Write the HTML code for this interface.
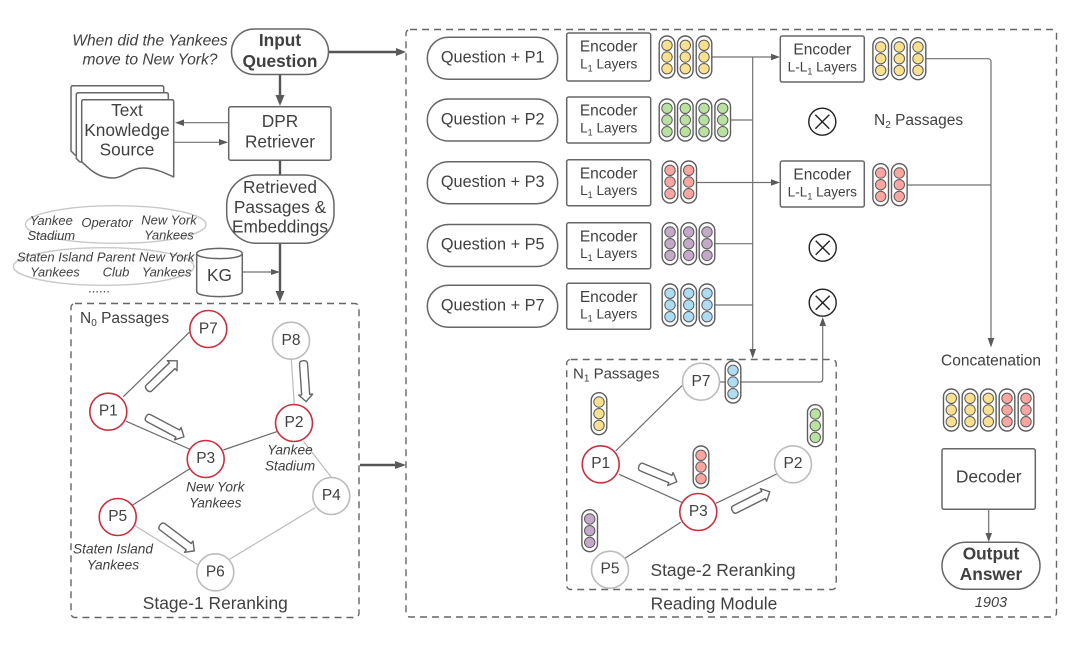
<!DOCTYPE html>
<html><head><meta charset="utf-8"><style>
html,body{margin:0;padding:0;background:#fff}
svg{display:block;filter:blur(.35px)}
text{font-family:"Liberation Sans",sans-serif;fill:#404040;text-anchor:middle}
.i{font-style:italic}
.b{font-weight:bold}
.box{fill:#fff;stroke:#666;stroke-width:1.5}
.dash{fill:none;stroke:#666;stroke-width:1.4;stroke-dasharray:7 5}
.ln{fill:none;stroke:#707070;stroke-width:1.2}
.th{fill:none;stroke:#555;stroke-width:2.4}
.dk{fill:none;stroke:#6a6a6a;stroke-width:1.2}
.lt{fill:none;stroke:#bcbcbc;stroke-width:1.2}
.ah{fill:#5a5a5a;stroke:none}
.ha{fill:#fff;stroke:#666;stroke-width:1.4;stroke-linejoin:round}
.r{fill:#fff;stroke:#c9303f;stroke-width:1.6}
.g{fill:#fff;stroke:#bcbcbc;stroke-width:1.6}
.e{font-size:15.5px}
.l{font-size:13.6px}
.q{font-size:16.3px}
.n{font-size:15.5px}
.s{font-size:13.7px}
.k{font-size:13px}
.t{font-size:17.3px}
.xl{stroke:#222;stroke-width:1.4;fill:none}
</style></head><body>
<svg width="1080" height="645" viewBox="0 0 1080 645" xmlns="http://www.w3.org/2000/svg">
<defs>
<g id="cap"><rect x="-7.8" y="-21" width="15.6" height="42" rx="7.8" fill="#fff" stroke="#5c5c5c" stroke-width="1.4"/></g>
<g id="cy"><use href="#cap"/><g fill="#fbe08e" stroke="#5c5c5c" stroke-width="1"><circle cy="-11.7" r="5.2"/><circle r="5.2"/><circle cy="11.7" r="5.2"/></g></g>
<g id="cg"><use href="#cap"/><g fill="#b9e29e" stroke="#5c5c5c" stroke-width="1"><circle cy="-11.7" r="5.2"/><circle r="5.2"/><circle cy="11.7" r="5.2"/></g></g>
<g id="cr"><use href="#cap"/><g fill="#fda6a1" stroke="#5c5c5c" stroke-width="1"><circle cy="-11.7" r="5.2"/><circle r="5.2"/><circle cy="11.7" r="5.2"/></g></g>
<g id="cp"><use href="#cap"/><g fill="#c4aac8" stroke="#5c5c5c" stroke-width="1"><circle cy="-11.7" r="5.2"/><circle r="5.2"/><circle cy="11.7" r="5.2"/></g></g>
<g id="cb"><use href="#cap"/><g fill="#aedcf5" stroke="#5c5c5c" stroke-width="1"><circle cy="-11.7" r="5.2"/><circle r="5.2"/><circle cy="11.7" r="5.2"/></g></g>
<g id="x"><circle r="13.5" fill="#fff" stroke="#222" stroke-width="1.4"/><path class="xl" d="M-7-7L7 7M7-7L-7 7"/></g>
</defs>

<!-- dashed containers -->
<rect class="dash" x="406" y="29.500" width="650.500" height="587.500" rx="4"/>
<rect class="dash" x="71" y="303.500" width="288" height="314" rx="4"/>

<!-- top left -->
<text class="i" x="150" y="45.500" font-size="15.600">When did the Yankees</text>
<text class="i" x="150" y="64.500" font-size="15.600">move to New York?</text>
<path class="th" d="M328 52H398"/><path class="ah" d="M406 52L396 48V56Z"/>
<path class="th" d="M280 74V97"/><path class="ah" d="M280 106L275.500 95H284.500Z"/>
<rect class="box" x="231.500" y="29" width="97" height="45.500" rx="22.700"/>
<text class="b t" x="280" y="46">Input</text>
<text class="b t" x="280" y="67">Question</text>

<path class="box" d="M73 85.700H161.700Q163.700 85.700 163.700 87.700V155H75L71 151V87.700Q71 85.700 73 85.700Z"/>
<path class="box" d="M78.300 92.700H166.300Q168.300 92.700 168.300 94.700V162H80L76.300 158.500V94.700Q76.300 92.700 78.300 92.700Z"/>
<path class="box" d="M83.700 99.700H171.700Q173.700 99.700 173.700 101.700V177C165 173 155 168 143 168C130 168 124 178 113 178C100 178 92 172 81.700 161.700V101.700Q81.700 99.700 83.700 99.700Z" stroke-linejoin="round"/>
<text class="t" x="127" y="116">Text</text>
<text class="t" x="127" y="136">Knowledge</text>
<text class="t" x="127" y="155.500">Source</text>

<path class="ln" d="M228 122.700H182"/><path class="ah" d="M175 122.700L184 119.500V126Z"/>
<path class="ln" d="M174 142.300H221"/><path class="ah" d="M228 142.300L219 139V145.500Z"/>
<rect class="box" x="228.700" y="106.700" width="102.300" height="53.500" rx="2"/>
<text class="t" x="280" y="127">DPR</text>
<text class="t" x="280" y="147.500">Retriever</text>
<path class="th" d="M280 160V175M280 243V292"/><path class="ah" d="M280 302L275.500 291H284.500Z"/>
<rect class="box" x="226.700" y="175" width="107.300" height="68.300" rx="30"/>
<text class="t" x="280" y="193">Retrieved</text>
<text class="t" x="280" y="213">Passages &amp;</text>
<text class="t" x="280" y="232.500">Embeddings</text>

<ellipse cx="115.700" cy="224.500" rx="90.300" ry="18.800" fill="#fff" stroke="#c8c8c8" stroke-width="1.400"/>
<ellipse cx="103.700" cy="266.500" rx="90.300" ry="18.800" fill="#fff" stroke="#c8c8c8" stroke-width="1.400"/>
<text class="i k" x="51.300" y="225">Yankee</text><text class="i k" x="51.300" y="240">Stadium</text>
<text class="i k" x="107" y="227">Operator</text>
<text class="i k" x="169" y="224.500">New York</text><text class="i k" x="169" y="239.500">Yankees</text>
<text class="i k" x="55" y="261.700">Staten Island</text><text class="i k" x="55" y="276.700">Yankees</text>
<text class="i k" x="116" y="261.700">Parent</text><text class="i k" x="116" y="276.700">Club</text>
<text class="i k" x="166.700" y="261.700">New York</text><text class="i k" x="166.700" y="276.700">Yankees</text>
<text class="k" x="99" y="292.500">......</text>
<path class="ln" d="M243 272H273"/><path class="ah" d="M280 272L271 269V275Z"/>
<path class="box" d="M196.700 253.500C196.700 246.700 242.300 246.700 242.300 253.500V291.500C242.300 298.300 196.700 298.300 196.700 291.500Z"/>
<path class="ln" d="M196.700 253.500C196.700 260.300 242.300 260.300 242.300 253.500" style="stroke:#666;stroke-width:1.500"/>
<text class="t" x="219.500" y="281">KG</text>

<!-- stage 1 -->
<path class="dk" d="M123.300 396.700L189.300 332.300M125.700 421L189.300 449M223.300 450L276.700 431.700M189.300 469L132.700 505"/>
<path class="lt" d="M291.300 359L294.300 405M303.300 441L331.700 477.700M315 507.700L228.300 560M135 525.700L198.300 565"/>
<circle class="r" cx="208.300" cy="329" r="18.500"/><text class="n" x="208.300" y="333.500">P7</text>
<circle class="g" cx="291" cy="340.700" r="18.500"/><text class="n" x="291" y="345">P8</text>
<circle class="r" cx="108.300" cy="411.700" r="18.500"/><text class="n" x="108.300" y="415.500">P1</text>
<circle class="r" cx="294" cy="423" r="18.500"/><text class="n" x="294" y="427">P2</text>
<circle class="r" cx="205.700" cy="459" r="18.500"/><text class="n" x="205.700" y="463">P3</text>
<circle class="g" cx="331.300" cy="496" r="18.500"/><text class="n" x="331.300" y="500">P4</text>
<circle class="r" cx="117.700" cy="517" r="18.500"/><text class="n" x="117.700" y="521">P5</text>
<circle class="g" cx="215.300" cy="572.300" r="18.500"/><text class="n" x="215.300" y="576.500">P6</text>
<text x="80" y="323" font-size="15.500" style="text-anchor:start">N<tspan font-size="10" dy="3">0</tspan><tspan dy="-3"> Passages</tspan></text>
<path class="ha" transform="translate(147 390) rotate(-44)" d="M3-4H35V-7L42 0 35 7V4H3Q0 4 0 0T3-4Z"/>
<path class="ha" transform="translate(146 416.700) rotate(28)" d="M3-4H36V-7L43 0 36 7V4H3Q0 4 0 0T3-4Z"/>
<path class="ha" transform="translate(303.300 360.700) rotate(86)" d="M3-4H34V-7L41 0 34 7V4H3Q0 4 0 0T3-4Z"/>
<path class="ha" transform="translate(160 525) rotate(37)" d="M3-4H36V-7L43 0 36 7V4H3Q0 4 0 0T3-4Z"/>
<text class="i s" x="290" y="454.500">Yankee</text><text class="i s" x="290" y="470.500">Stadium</text>
<text class="i s" x="215.300" y="491.700">New York</text><text class="i s" x="215.300" y="507.700">Yankees</text>
<text class="i s" x="113" y="553.300">Staten Island</text><text class="i s" x="113" y="569.700">Yankees</text>
<text x="215.300" y="609" font-size="17.400">Stage-1 Reranking</text>
<path class="th" d="M360 465H397"/><path class="ah" d="M406 465L395 461V469Z"/>

<!-- reading module rows -->
<rect class="box" x="427.300" y="37.300" width="130.400" height="42" rx="21"/>
<rect class="box" x="427.300" y="99" width="130.400" height="42" rx="21"/>
<rect class="box" x="427.300" y="161.700" width="130.400" height="42" rx="21"/>
<rect class="box" x="427.300" y="224.500" width="130.400" height="42" rx="21"/>
<rect class="box" x="427.300" y="285.300" width="130.400" height="42" rx="21"/>
<text class="q" x="492.700" y="62.700">Question + P1</text>
<text class="q" x="492.700" y="124.300">Question + P2</text>
<text class="q" x="492.700" y="187">Question + P3</text>
<text class="q" x="492.700" y="249.700">Question + P5</text>
<text class="q" x="492.700" y="310.500">Question + P7</text>

<rect class="box" x="566.700" y="33" width="84" height="48" rx="2"/>
<rect class="box" x="566.700" y="97" width="84" height="46" rx="2"/>
<rect class="box" x="566.700" y="159.700" width="84" height="46" rx="2"/>
<rect class="box" x="566.700" y="222.700" width="84" height="46" rx="2"/>
<rect class="box" x="566.700" y="283.300" width="84" height="46" rx="2"/>
<text class="e" x="608.700" y="51.700">Encoder</text><text class="l" x="608.700" y="68.300">L<tspan font-size="9" dy="3">1</tspan><tspan dy="-3"> Layers</tspan></text>
<text class="e" x="608.700" y="115.700">Encoder</text><text class="l" x="608.700" y="132.300">L<tspan font-size="9" dy="3">1</tspan><tspan dy="-3"> Layers</tspan></text>
<text class="e" x="608.700" y="178.300">Encoder</text><text class="l" x="608.700" y="195">L<tspan font-size="9" dy="3">1</tspan><tspan dy="-3"> Layers</tspan></text>
<text class="e" x="608.700" y="241.300">Encoder</text><text class="l" x="608.700" y="258">L<tspan font-size="9" dy="3">1</tspan><tspan dy="-3"> Layers</tspan></text>
<text class="e" x="608.700" y="302">Encoder</text><text class="l" x="608.700" y="318.700">L<tspan font-size="9" dy="3">1</tspan><tspan dy="-3"> Layers</tspan></text>

<!-- connectors -->
<path class="ln" d="M711 57H773M752.700 57V350M731 120H752.700M696 182.500H773M715 243.700H752.700M715 305H752.700"/>
<path class="ah" d="M780 57L771 53.800V60.200ZM780 182.500L771 179.300V185.700ZM752.700 358.500L749.500 349H756Z"/>
<path class="ln" d="M926 58.700H988Q991 58.700 991 62V340M907 185H991"/>
<path class="ah" d="M991 347.500L987.700 338H994.300Z"/>
<path class="ln" d="M733 382H820Q822.700 382 822.700 379V324"/>
<path class="ah" d="M822.700 317L819.500 326H826Z"/>

<!-- capsules -->
<use href="#cy" x="667" y="57"/><use href="#cy" x="685.300" y="57"/><use href="#cy" x="704" y="57"/>
<use href="#cg" x="667" y="120"/><use href="#cg" x="685.300" y="120"/><use href="#cg" x="704" y="120"/><use href="#cg" x="722.700" y="120"/>
<use href="#cr" x="670" y="182"/><use href="#cr" x="688.700" y="182"/>
<use href="#cp" x="670" y="243.700"/><use href="#cp" x="688.700" y="243.700"/><use href="#cp" x="707" y="243.700"/>
<use href="#cb" x="670" y="305"/><use href="#cb" x="688.700" y="305"/><use href="#cb" x="707" y="305"/>
<use href="#cy" x="880.700" y="58.700"/><use href="#cy" x="899.300" y="58.700"/><use href="#cy" x="918" y="58.700"/>
<use href="#cr" x="880.700" y="184.700"/><use href="#cr" x="899.300" y="184.700"/>

<rect class="box" x="780.300" y="36" width="84" height="46" rx="2"/>
<rect class="box" x="780.300" y="161" width="84" height="46" rx="2"/>
<text class="e" x="822.300" y="54.500">Encoder</text><text class="l" x="822.300" y="71.500">L-L<tspan font-size="9" dy="3">1</tspan><tspan dy="-3"> Layers</tspan></text>
<text class="e" x="822.300" y="179.500">Encoder</text><text class="l" x="822.300" y="196.500">L-L<tspan font-size="9" dy="3">1</tspan><tspan dy="-3"> Layers</tspan></text>
<use href="#x" x="822.300" y="121.700"/><use href="#x" x="822.700" y="247.700"/><use href="#x" x="822.700" y="302.700"/>
<text x="874" y="125" font-size="15.500" style="text-anchor:start">N<tspan font-size="10" dy="3">2</tspan><tspan dy="-3"> Passages</tspan></text>

<!-- stage 2 -->
<rect class="dash" x="566.700" y="359.500" width="269.500" height="230" rx="4"/>
<path class="dk" d="M615.700 451L682.700 385M619 474.300L681.700 502.300M716 503.300L776.700 474M680.700 522.300L625 558.300M719 382H726"/>
<circle class="g" cx="701" cy="381.700" r="18.500"/><text class="n" x="701" y="386">P7</text>
<circle class="r" cx="600.700" cy="464.300" r="18.500"/><text class="n" x="600.700" y="468">P1</text>
<circle class="g" cx="793" cy="464.300" r="18.500"/><text class="n" x="793" y="468">P2</text>
<circle class="r" cx="698.300" cy="512" r="18.500"/><text class="n" x="698.300" y="516">P3</text>
<circle class="g" cx="610" cy="569.700" r="18.500"/><text class="n" x="610" y="573.500">P5</text>
<use href="#cb" x="733" y="382"/><use href="#cy" x="599" y="413.700"/><use href="#cr" x="701" y="467"/><use href="#cg" x="815.300" y="425.700"/><use href="#cp" x="589.700" y="530.700"/>
<path class="ha" transform="translate(639 466) rotate(22.600)" d="M3-4H34V-7L41 0 34 7V4H3Q0 4 0 0T3-4Z"/>
<path class="ha" transform="translate(732.300 510.700) rotate(-26.800)" d="M3-4H35V-7L42 0 35 7V4H3Q0 4 0 0T3-4Z"/>
<text x="573" y="378.500" font-size="15" style="text-anchor:start">N<tspan font-size="10" dy="3">1</tspan><tspan dy="-3"> Passages</tspan></text>
<text x="723" y="576" font-size="17.400">Stage-2 Reranking</text>
<text x="714" y="609.500" font-size="17.400">Reading Module</text>

<!-- right column -->
<text x="991" y="365.500" font-size="15.500">Concatenation</text>
<use href="#cy" x="951.300" y="410"/><use href="#cy" x="970" y="410"/><use href="#cy" x="988.300" y="410"/><use href="#cr" x="1007" y="410"/><use href="#cr" x="1026" y="410"/>
<rect class="box" x="942" y="448.700" width="93.300" height="60.600" rx="2"/>
<text x="988.700" y="482.500" font-size="17.400">Decoder</text>
<path class="ln" d="M988.700 509V535"/><path class="ah" d="M988.700 542L985.500 533H992Z"/>
<rect class="box" x="942" y="542.300" width="98" height="47" rx="23.500"/>
<text class="b t" x="991" y="559.500">Output</text>
<text class="b t" x="991" y="580">Answer</text>
<text class="i" x="991" y="607" font-size="14.500">1903</text>
</svg>
</body></html>
